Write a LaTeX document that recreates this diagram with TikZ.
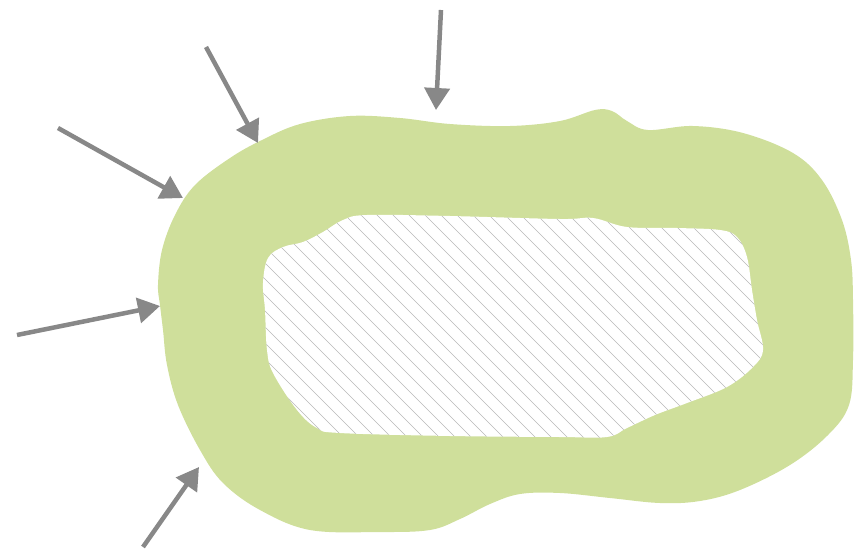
\documentclass[tikz,border=0pt]{standalone}
\usetikzlibrary{arrows.meta}
\definecolor{blobgreen}{RGB}{207,223,155}
\definecolor{arrowgray}{RGB}{136,136,136}
\definecolor{hatchgray}{RGB}{185,185,185}
\newcommand{\innerzone}{(263,283) (268,258) (283,247) (303,242) (323,232) (343,220) (367,215)
  (450,216) (560,219) (593,218) (627,227) (677,228) (720,230) (737,237)
  (747,257) (752,290) (757,320) (763,350) (753,367) (727,387) (687,403)
  (655,415) (627,428) (607,437) (560,437) (450,436) (340,433) (317,428)
  (297,410) (273,373) (267,350) (265,310)}
\begin{document}
\begin{tikzpicture}[x=1pt, y=-1pt,
    inflow/.style={draw=arrowgray, line width=4.5pt, -{Triangle[length=22pt, width=25pt]}},
    hatchline/.style={draw=hatchgray, line width=0.6pt}]
    \useasboundingbox (0,0) rectangle (854,552);
    % Outer green band
    \fill[blobgreen] plot[smooth cycle, tension=0.6] coordinates {
      (158,285) (162,250) (175,215) (195,185) (230,158) (262,140) (300,124)
      (350,116) (400,118) (450,124) (510,126) (560,121) (595,110) (612,111)
      (627,121) (648,130) (693,126) (743,133) (793,153) (822,180) (842,220)
      (851,260) (853,300) (853,360) (849,405) (828,435) (790,465) (740,490)
      (700,501) (660,503) (610,498) (560,493) (520,494) (490,504) (460,519)
      (430,530) (380,532) (310,530) (260,510) (223,483) (200,450) (178,405)
      (167,365) (163,330) (160,305)};
    % Inner hatched region
    \begin{scope}[smooth cycle, tension=0.6]
      \fill[white] plot coordinates {\innerzone};
      \clip plot coordinates {\innerzone};
      \foreach \k in {-600,-584,...,800} {
        \draw[hatchline] (\k,150) -- ++(500,500);
      }
    \end{scope}
    % Arrows pointing at the band
    \coordinate (topstart) at (441,10);   \coordinate (topend) at (436,110);
    \coordinate (ulstart) at (206,47);    \coordinate (ulend) at (258,143);
    \coordinate (lstart) at (58,128);     \coordinate (lend) at (183,198);
    \coordinate (wstart) at (17,335);     \coordinate (wend) at (160,306);
    \coordinate (swstart) at (143,547);   \coordinate (swend) at (199,467);
    \foreach \a in {top,ul,l,w,sw} {
      \draw[inflow] (\a start) -- (\a end);
    }
\end{tikzpicture}
\end{document}
